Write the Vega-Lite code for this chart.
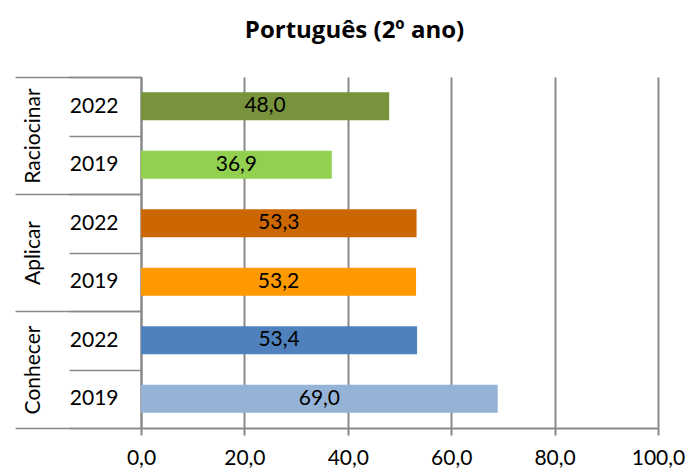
{
  "$schema": "https://vega.github.io/schema/vega-lite/v6.json",
  "autosize": "none",
  "width": 517,
  "height": 351,
  "padding": {"left": 141, "top": 77, "right": 30, "bottom": 42},
  "title": {
    "text": "Português (2º ano)",
    "font": "Open Sans",
    "fontSize": 24,
    "fontWeight": "bold",
    "color": "#000000",
    "anchor": "middle",
    "frame": "group",
    "dx": -45,
    "offset": 23
  },
  "data": {
    "values": [
      {"row": "Raciocinar|2022", "group": "Raciocinar", "year": "2022", "value": 48.0},
      {"row": "Raciocinar|2019", "group": "Raciocinar", "year": "2019", "value": 36.9},
      {"row": "Aplicar|2022", "group": "Aplicar", "year": "2022", "value": 53.3},
      {"row": "Aplicar|2019", "group": "Aplicar", "year": "2019", "value": 53.2},
      {"row": "Conhecer|2022", "group": "Conhecer", "year": "2022", "value": 53.4},
      {"row": "Conhecer|2019", "group": "Conhecer", "year": "2019", "value": 69.0}
    ]
  },
  "layer": [
    {
      "mark": {"type": "bar", "height": {"band": 0.48}},
      "encoding": {
        "y": {
          "field": "row",
          "type": "nominal",
          "sort": ["Raciocinar|2022", "Raciocinar|2019", "Aplicar|2022", "Aplicar|2019", "Conhecer|2022", "Conhecer|2019"],
          "scale": {"paddingInner": 0, "paddingOuter": 0},
          "axis": {
            "orient": "left",
            "title": null,
            "labelExpr": "split(datum.label, '|')[1]",
            "tickBand": "extent",
            "tickSize": 72,
            "tickColor": "#898989",
            "tickWidth": 1.5,
            "domain": true,
            "domainColor": "#898989",
            "domainWidth": 2,
            "labelPadding": -49,
            "labelFont": "Lato",
            "labelFontSize": 21,
            "labelColor": "#000000",
            "labelAlign": "right",
            "labelBaseline": "middle"
          }
        },
        "x": {
          "field": "value",
          "type": "quantitative",
          "scale": {"domain": [0, 100], "nice": false, "zero": true},
          "axis": {
            "title": null,
            "values": [0, 20, 40, 60, 80, 100],
            "format": ".1f",
            "grid": true,
            "gridColor": "#898989",
            "gridWidth": 2,
            "tickColor": "#898989",
            "tickWidth": 2,
            "tickSize": 7,
            "domainColor": "#898989",
            "domainWidth": 2,
            "labelFont": "Lato",
            "labelFontSize": 21,
            "labelColor": "#000000",
            "labelPadding": 12,
            "labelFlush": false
          }
        },
        "color": {
          "field": "row",
          "type": "nominal",
          "scale": {
            "domain": ["Raciocinar|2022", "Raciocinar|2019", "Aplicar|2022", "Aplicar|2019", "Conhecer|2022", "Conhecer|2019"],
            "range": ["#77933C", "#92D050", "#CC6600", "#FF9900", "#4F81BD", "#95B3D7"]
          },
          "legend": null
        }
      }
    },
    {
      "mark": {"type": "text", "font": "Lato", "fontSize": 21, "color": "#000000", "baseline": "middle", "align": "center"},
      "encoding": {
        "y": {
          "field": "row",
          "type": "nominal",
          "sort": ["Raciocinar|2022", "Raciocinar|2019", "Aplicar|2022", "Aplicar|2019", "Conhecer|2022", "Conhecer|2019"],
          "scale": {"paddingInner": 0, "paddingOuter": 0},
          "axis": null
        },
        "x": {
          "field": "value",
          "type": "quantitative",
          "scale": {"domain": [0, 200], "nice": false, "zero": true},
          "axis": null
        },
        "text": {"field": "value", "type": "quantitative", "format": ".1f"}
      }
    },
    {
      "mark": {"type": "tick", "opacity": 0},
      "encoding": {
        "y": {
          "field": "group",
          "type": "nominal",
          "sort": ["Raciocinar", "Aplicar", "Conhecer"],
          "scale": {"paddingInner": 0, "paddingOuter": 0},
          "axis": {
            "orient": "left",
            "title": null,
            "tickBand": "extent",
            "tickSize": 126,
            "tickColor": "#898989",
            "tickWidth": 1.5,
            "domain": false,
            "labelAngle": -90,
            "labelAlign": "center",
            "labelBaseline": "middle",
            "labelPadding": -18,
            "labelFont": "Lato",
            "labelFontSize": 21,
            "labelColor": "#000000"
          }
        }
      }
    }
  ],
  "resolve": {"scale": {"y": "independent", "x": "independent"}, "axis": {"y": "independent", "x": "independent"}},
  "config": {
    "view": {"stroke": null},
    "locale": {"number": {"decimal": ",", "thousands": ".", "grouping": [3], "currency": ["", ""]}}
  }
}
